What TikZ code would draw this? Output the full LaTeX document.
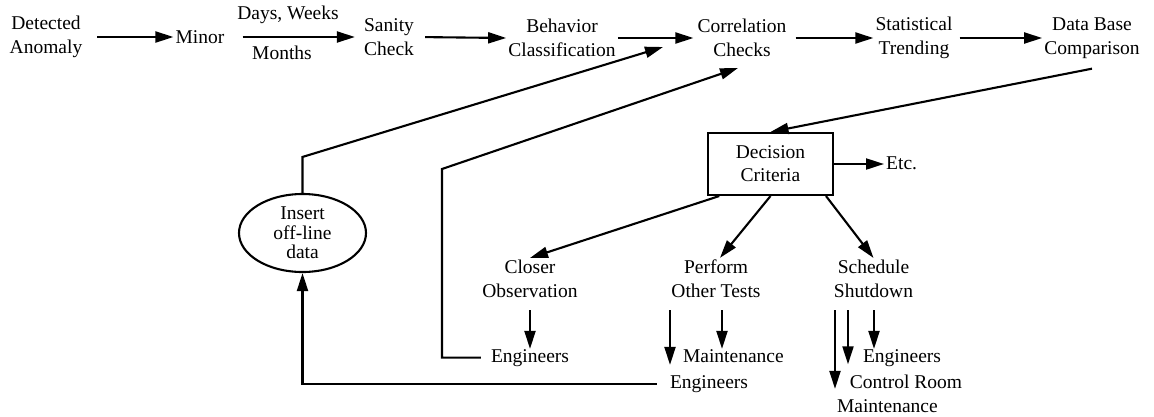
\documentclass[tikz,border=0pt]{standalone}
\usepackage{fontspec}
\setmainfont{Liberation Serif}
\usetikzlibrary{arrows.meta,shapes.geometric}
\begin{document}
\begin{tikzpicture}[x=1pt,y=-1pt,
  txt/.style={align=center, inner sep=2pt, font=\fontsize{19.5}{24}\selectfont},
  bt/.style={anchor=base, inner sep=0pt, font=\fontsize{19.5}{24}\selectfont},
  arr/.style={line width=2.1pt, -{Triangle[length=18pt,width=11pt]}},
  box/.style={draw, line width=2.1pt, minimum width=125pt, minimum height=62pt,
    align=center, inner sep=2pt, font=\fontsize{19.5}{23}\selectfont},
  oval/.style={draw, ellipse, line width=2.1pt, minimum width=127pt, minimum height=78pt,
    inner sep=0pt, align=center, font=\fontsize{19.5}{19.5}\selectfont}
]
\useasboundingbox (0,0) rectangle (1154,416);

% main processing chain
\node[txt] (da) at (46,37) {Detected\\Anomaly};
\node[txt] (mi) at (200,37) {Minor};
\node[txt] (sa) at (389,37) {Sanity\\Check};
\node[txt] (bc) at (562,38) {Behavior\\Classification};
\node[txt] (cc) at (742,38) {Correlation\\Checks};
\node[txt] (st) at (914,38) {Statistical\\Trending};
\node[txt] (db) at (1092,38) {Data Base\\Comparison};
\node[txt] (dw) at (288,15) {Days, Weeks};
\node[txt] (mo) at (282,53) {Months};

\draw[arr, shorten <=13pt] (da.east) -- (mi.west);
\draw[arr, shorten <=16pt, shorten >=7pt] (mi.east) -- (sa.west);
\draw[arr, shorten <=9pt] (sa.east) -- (bc.west);
\draw[arr, shorten >=2pt] (bc.east) -- (cc.west);
\draw[arr, shorten <=7pt] (cc.east) -- (st.west);
\draw[arr, shorten <=5pt] (st.east) -- (db.west);

% decision
\node[box] (dc) at (770.5,164) {Decision\\Criteria};
\node[txt, anchor=west] (etc) at (884,163) {Etc.};
\draw[arr] ([yshift=-8pt]db.south) -- (dc.north);
\draw[arr] (dc.east) -- (dc.east -| etc.west);

% actions
\node[txt] (co) at (530,279) {Closer\\Observation};
\node[txt] (pt) at (716,279) {Perform\\Other Tests};
\node[txt] (ss) at (873.5,279) {Schedule\\Shutdown};
\draw[arr] (dc.212) -- (co.north);
\draw[arr] (dc.south) -- ([xshift=4pt]pt.north);
\draw[arr] (dc.-30) -- (ss.north);

% who acts
\node[bt] (e1) at (530,362) {Engineers};
\node[bt] (pm) at (733.4,362) {Maintenance};
\node[bt] (pe) at (709,388) {Engineers};
\node[bt] (se) at (902,362) {Engineers};
\node[bt] (cr) at (906,388) {Control Room};
\node[bt] (sm) at (887.4,412) {Maintenance};

\draw[arr, shorten <=10pt] (co.south) -- (co.south |- e1.north);
\draw[arr, shorten <=10pt] ([xshift=6pt]pt.south) -- ([xshift=6pt]pt.south |- pm.north);
\draw[arr, shorten <=10pt, shorten >=10pt] ([xshift=-46pt]pt.south) -- ([xshift=-46pt]pt.south |- pe.north);
\draw[arr, shorten <=10pt, shorten >=10pt] ([xshift=-38.5pt]ss.south) -- ([xshift=-38.5pt]ss.south |- sm.north);
\draw[arr, shorten <=10pt, shorten >=10pt] ([xshift=-25.5pt]ss.south) -- ([xshift=-25.5pt]ss.south |- cr.north);
\draw[arr, shorten <=10pt] ([xshift=0.5pt]ss.south) -- ([xshift=0.5pt]ss.south |- se.north);

% feedback through off-line data
\node[oval] (io) at (302.5,233) {Insert\\off-line\\data};
\coordinate (in1) at (663,47);
\coordinate (in2) at (738,68);
\coordinate (k1) at (442,169);
\draw[arr] (io.north) -- ++(0,-36) -- (in1);
\draw[arr, shorten <=10pt] (e1.west) -| (k1) -- (in2);
\draw[arr, shorten <=13pt] (pe.west) -| (io.south);
\end{tikzpicture}
\end{document}
